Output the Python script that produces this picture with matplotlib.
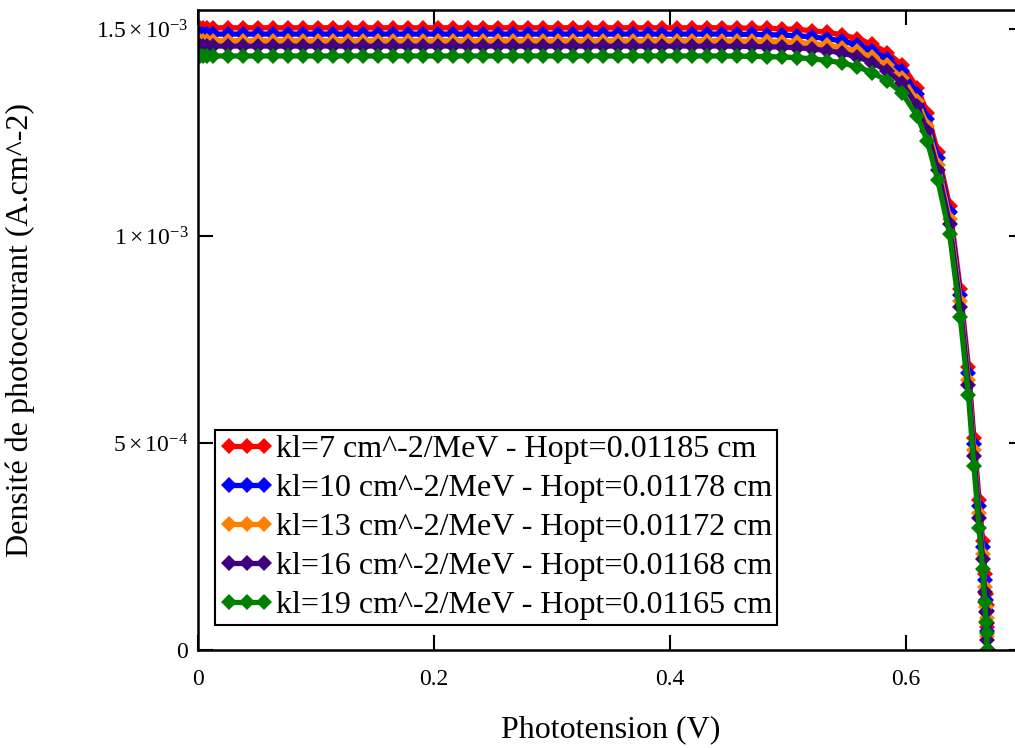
import matplotlib
matplotlib.use("Agg")
import matplotlib.pyplot as plt
import numpy as np

plt.rcParams['font.family'] = ['Liberation Serif', 'DejaVu Serif']
plt.rcParams['mathtext.fontset'] = 'custom'
plt.rcParams['mathtext.rm'] = 'Liberation Serif'
plt.rcParams['mathtext.it'] = 'Liberation Serif:italic'

# Phototension (V), shared by all curves
volts = [0, 0.0015, 0.004, 0.008, 0.013,
         0.0254, 0.0381, 0.0508, 0.0635, 0.0762, 0.0889, 0.1016, 0.1143, 0.127, 0.1397,
         0.1524, 0.1651, 0.1778, 0.1905, 0.2032, 0.2159, 0.2286, 0.2413, 0.254, 0.2667,
         0.2794, 0.2921, 0.3048, 0.3175, 0.3302, 0.3429, 0.3556, 0.3683, 0.381, 0.3937,
         0.4064, 0.4191, 0.4318, 0.4445,
         0.4572, 0.4699, 0.4826, 0.4953, 0.508, 0.5207, 0.5334, 0.5461, 0.5588, 0.5715,
         0.5842, 0.5969, 0.6096, 0.618, 0.627, 0.637, 0.646, 0.653, 0.6576, 0.662,
         0.665, 0.6669, 0.6678, 0.6684, 0.6688, 0.6692]

# photocurrent density, in 1e-3 A/cm2
j_kl7 = [1.503] * 39 + [1.5025, 1.502, 1.5015, 1.5005, 1.499, 1.496, 1.492, 1.486, 1.477, 1.463,
                         1.443, 1.413, 1.358, 1.298, 1.203, 1.073, 0.873, 0.683, 0.513, 0.363,
                         0.263, 0.183, 0.136, 0.109, 0.055, 0.0]
j_kl10 = [1.488] * 39 + [1.4875, 1.487, 1.4865, 1.4855, 1.484, 1.481, 1.477, 1.471, 1.462, 1.448,
                          1.428, 1.398, 1.343, 1.283, 1.188, 1.058, 0.858, 0.668, 0.498, 0.348,
                          0.248, 0.168, 0.121, 0.094, 0.045, 0.0]
j_kl13 = [1.472] * 39 + [1.4715, 1.471, 1.4705, 1.4695, 1.468, 1.465, 1.461, 1.455, 1.446, 1.432,
                          1.412, 1.382, 1.327, 1.267, 1.172, 1.042, 0.842, 0.652, 0.482, 0.332,
                          0.232, 0.152, 0.105, 0.078, 0.035, 0.0]
j_kl16 = [1.459] * 39 + [1.4585, 1.458, 1.4575, 1.4565, 1.455, 1.452, 1.448, 1.442, 1.433, 1.419,
                          1.399, 1.369, 1.314, 1.254, 1.159, 1.029, 0.829, 0.639, 0.469, 0.319,
                          0.219, 0.139, 0.092, 0.065, 0.025, 0.0]
j_kl19 = [1.435] * 39 + [1.4345, 1.434, 1.4335, 1.4325, 1.431, 1.428, 1.424, 1.418, 1.409, 1.395,
                          1.375, 1.345, 1.29, 1.23, 1.135, 1.005, 0.805, 0.615, 0.445, 0.295,
                          0.195, 0.115, 0.068, 0.041, 0.0, 0.0]

labels = ['kl=7 cm^-2/MeV - Hopt=0.01185 cm',
          'kl=10 cm^-2/MeV - Hopt=0.01178 cm',
          'kl=13 cm^-2/MeV - Hopt=0.01172 cm',
          'kl=16 cm^-2/MeV - Hopt=0.01168 cm',
          'kl=19 cm^-2/MeV - Hopt=0.01165 cm']
colors = ['#ff0000', '#0000ff', '#ff8000', '#400080', '#008000']
series = [j_kl7, j_kl10, j_kl13, j_kl16, j_kl19]

fig = plt.figure(figsize=(10.15, 7.48), dpi=100)
ax = fig.add_axes([0.195, 0.131, 0.8138, 0.8556])

for j, c, lab in zip(series, colors, labels):
    ax.plot(volts, np.array(j) * 1e-3, color=c, lw=3.8, marker='D', markersize=8.5,
            markeredgewidth=0, label=lab)

ax.set_xlim(0, 0.7)
ax.set_ylim(0, 1.546e-3)

ax.set_xticks([0, 0.2, 0.4, 0.6])
ax.set_xticklabels(['0', '0.2', '0.4', '0.6'])
ax.set_yticks([0, 5e-4, 1e-3, 1.5e-3])
ax.set_yticklabels(['0', r'$5\times10^{-4}$', r'$1\times10^{-3}$', r'$1.5\times10^{-3}$'])
ax.tick_params(direction='in', length=11, width=1.5, top=True, right=True,
               labelsize=17, colors='black')
ax.tick_params(axis='x', pad=14)
ax.tick_params(axis='y', pad=7)
for s in ax.spines.values():
    s.set_linewidth(1.8)

ax.set_xlabel('Phototension (V)', fontsize=23, labelpad=18)
ax.set_ylabel('Densité de photocourant (A.cm^-2)', fontsize=23, labelpad=44)

leg = ax.legend(loc='upper left', bbox_to_anchor=(0.0206, 0.344), borderaxespad=0,
                fontsize=23, numpoints=3, handlelength=1.7, handletextpad=0.05,
                labelspacing=0.3, borderpad=0.15, fancybox=False, framealpha=1,
                edgecolor='black', markerscale=1.0)
leg.get_frame().set_linewidth(1.5)

fig.savefig('out.png', dpi=100)
